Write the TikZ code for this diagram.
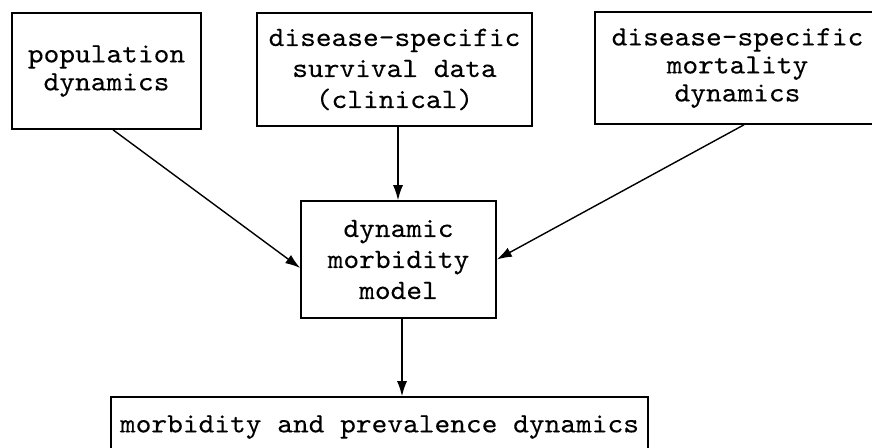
\documentclass[tikz,border=0pt]{standalone}
\usepackage{fontspec}
\newfontfamily\twfont{lmmono10-regular.otf}[FakeStretch=1.07,FakeBold=0.2]
\usetikzlibrary{arrows.meta,calc}
\begin{document}
\begin{tikzpicture}[x=1pt,y=-1pt,
  boxed/.style={draw, line width=1.6pt, rectangle, inner sep=0pt, align=center,
    font=\twfont\fontsize{28pt}{31pt}\selectfont},
  tight/.style={font=\twfont\fontsize{28pt}{28pt}\selectfont},
  conn/.style={line width=1.4pt, -{Latex[length=15pt,width=10pt]}}]
\useasboundingbox (0,0) rectangle (872,447);
\node[boxed, tight, minimum width=189pt, minimum height=116pt] (pop) at (106.5,71) {population\\dynamics};
\node[boxed, minimum width=275pt, minimum height=113pt] (surv) at (394.5,69.5) {disease-specific\\survival data\\(clinical)};
\node[boxed, tight, minimum width=285pt, minimum height=112pt] (mort) at (737.5,68) {disease-specific\\mortality\\dynamics};
\node[boxed, minimum width=195pt, minimum height=117pt] (mid) at (398.5,259.5) {dynamic\\morbidity\\model};
\node[boxed, minimum width=537pt, minimum height=60pt] (out) at (379.5,427) {morbidity and prevalence dynamics};
\draw[conn] ([xshift=6.5pt]pop.south) -- ([yshift=-8.5pt]mid.west);
\draw[conn] ([xshift=3.5pt]surv.south) -- ([xshift=3.5pt]surv.south |- mid.north);
\draw[conn] ([xshift=6.5pt]mort.south) -- (mid.east);
\draw[conn] ([xshift=3.5pt]mid.south) -- ([xshift=3.5pt]mid.south |- out.north);
\end{tikzpicture}
\end{document}
